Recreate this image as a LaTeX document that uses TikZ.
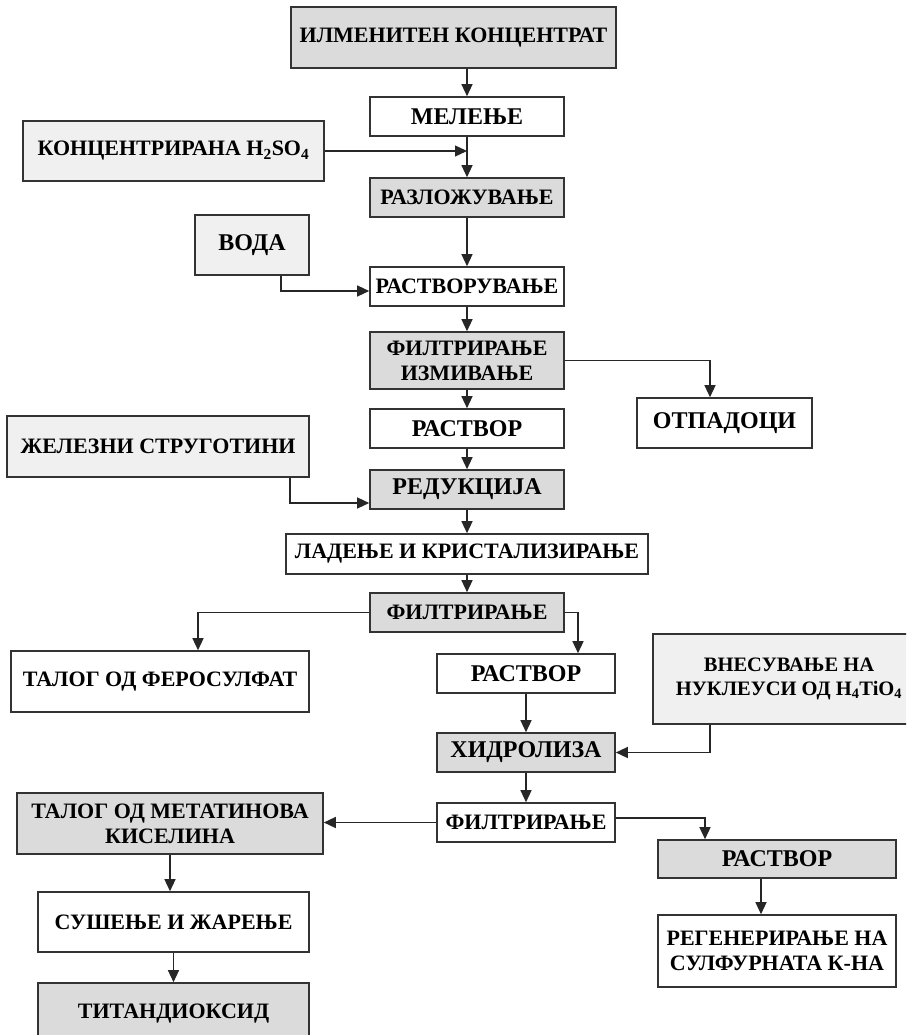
\documentclass[tikz,border=0pt]{standalone}
\usepackage{fontspec}
\setmainfont{Liberation Serif}
\usetikzlibrary{arrows.meta,calc}

\tikzset{
	box/.style={draw=black!80, line width=1.6pt, inner sep=0pt, align=center, font=\bfseries\fontsize{22}{25}\selectfont},
	greybox/.style={box, fill=black!14},
	lightbox/.style={box, fill=black!6},
	whitebox/.style={box, fill=white},
	bigtext/.style={font=\bfseries\fontsize{24}{27}\selectfont},
	flow/.style={line width=1.3pt, draw=black!85, -{Triangle[length=12pt,width=11pt]}}
}

\begin{document}
\begin{tikzpicture}[x=1pt, y=-1pt]
			%%%%% START %%%%%
			\useasboundingbox (0, 0) rectangle (906, 1035);
			\clip (0, 0) rectangle (906, 1035);
			
			% main line
			\node[greybox, minimum width=325pt, minimum height=61pt] (ilmenit) at (453.5, 37.5) {ИЛМЕНИТЕН КОНЦЕНТРАТ};
			\node[whitebox, bigtext, minimum width=194pt, minimum height=39pt] (melenje) at (467, 116.5) {МЕЛЕЊЕ};
			\node[greybox, minimum width=194pt, minimum height=39pt] (razlozuvanje) at (467, 197.5) {РАЗЛОЖУВАЊЕ};
			\node[whitebox, minimum width=194pt, minimum height=39pt] (rastvoruvanje) at (467, 286.5) {РАСТВОРУВАЊЕ};
			\node[greybox, minimum width=194pt, minimum height=57pt] (filtrA) at (467, 360.5) {ФИЛТРИРАЊЕ\\ИЗМИВАЊЕ};
			\node[whitebox, bigtext, minimum width=194pt, minimum height=39pt] (rastvorA) at (467, 428.5) {РАСТВОР};
			\node[greybox, bigtext, minimum width=194pt, minimum height=39pt] (redukcija) at (467, 489.5) {РЕДУКЦИЈА};
			\node[whitebox, minimum width=362pt, minimum height=40pt] (ladenje) at (467, 554) {ЛАДЕЊЕ И КРИСТАЛИЗИРАЊЕ};
			\node[greybox, minimum width=194pt, minimum height=39pt] (filtrB) at (467, 612.5) {ФИЛТРИРАЊЕ};
			
			% inputs from the left
			\node[lightbox, minimum width=301pt, minimum height=60pt] (kiselina) at (173.5, 151) {КОНЦЕНТРИРАНА H\textsubscript{2}SO\textsubscript{4}};
			\node[lightbox, bigtext, minimum width=114pt, minimum height=60pt] (voda) at (252, 245) {ВОДА};
			\node[lightbox, minimum width=302pt, minimum height=61pt] (zelezo) at (158, 446.5) {ЖЕЛЕЗНИ СТРУГОТИНИ};
			
			\node[whitebox, bigtext, minimum width=175pt, minimum height=50pt] (otpadoci) at (724.5, 423) {ОТПАДОЦИ};
			
			% second half
			\node[whitebox, minimum width=298pt, minimum height=61pt] (ferosulfat) at (160, 681.5) {ТАЛОГ ОД ФЕРОСУЛФАТ};
			\node[whitebox, bigtext, minimum width=178pt, minimum height=39pt] (rastvorB) at (526, 673.5) {РАСТВОР};
			\node[lightbox, minimum width=272pt, minimum height=90pt, font=\bfseries\fontsize{20.5}{24}\selectfont] (nukleusi) at (789, 679) {ВНЕСУВАЊЕ НА\\НУКЛЕУСИ ОД H\textsubscript{4}TiO\textsubscript{4}};
			\node[greybox, bigtext, minimum width=178pt, minimum height=39pt] (hidroliza) at (526, 752.5) {ХИДРОЛИЗА};
			\node[whitebox, minimum width=178pt, minimum height=39pt] (filtrC) at (526, 822.5) {ФИЛТРИРАЊЕ};
			\node[greybox, minimum width=306pt, minimum height=61pt] (metatin) at (170, 823.5) {ТАЛОГ ОД МЕТАТИНОВА\\КИСЕЛИНА};
			\node[greybox, bigtext, minimum width=238pt, minimum height=38pt] (rastvorC) at (777, 859) {РАСТВОР};
			\node[whitebox, minimum width=238pt, minimum height=72pt] (regener) at (777, 951) {РЕГЕНЕРИРАЊЕ НА\\СУЛФУРНАТА К-НА};
			\node[whitebox, minimum width=271pt, minimum height=60pt] (susenje) at (173.5, 922) {СУШЕЊЕ И ЖАРЕЊЕ};
			\node[greybox, minimum width=271pt, minimum height=62pt] (titan) at (173.5, 1014) {ТИТАНДИОКСИД};
			
			% arrows
			\draw[flow] (ilmenit.south -| melenje.north) -- (melenje.north);
			\draw[flow] (melenje) -- (razlozuvanje);
			\draw[flow] (kiselina.east) -- (kiselina.east -| melenje.south);
			\draw[flow] (razlozuvanje) -- (rastvoruvanje);
			\draw[flow] ($(voda.south)+(29, 0)$) |- ($(rastvoruvanje.west)+(0, 4.5)$);
			\draw[flow] (rastvoruvanje) -- (filtrA);
			\draw[flow] (filtrA.east) -| ($(otpadoci.north)+(-14.5, 0)$);
			\draw[flow] (filtrA) -- (rastvorA);
			\draw[flow] (rastvorA) -- (redukcija);
			\draw[flow] ($(zelezo.south)+(132, 0)$) |- ($(redukcija.west)+(0, 13.5)$);
			\draw[flow] (redukcija) -- (ladenje);
			\draw[flow] (ladenje) -- (filtrB);
			\draw[flow] (filtrB.west) -| ($(ferosulfat.north)+(38, 0)$);
			\draw[flow] (filtrB.east) -| ($(rastvorB.north)+(52, 0)$);
			\draw[flow] (rastvorB) -- (hidroliza);
			\draw[flow] ($(nukleusi.south)+(-79, 0)$) |- (hidroliza.east);
			\draw[flow] (hidroliza) -- (filtrC);
			\draw[flow] (filtrC.west) -- (filtrC.west -| metatin.east);
			\draw[flow] ($(filtrC.east)+(0, -4.5)$) -| ($(rastvorC.north)+(-72, 0)$);
			\draw[flow] ($(rastvorC.south)+(-16, 0)$) -- ($(regener.north)+(-16, 0)$);
			\draw[flow] (metatin.south) -- (metatin.south |- susenje.north);
			\draw[flow] (susenje) -- (titan);
			
			%%%%% END %%%%%
\end{tikzpicture}
\end{document}
